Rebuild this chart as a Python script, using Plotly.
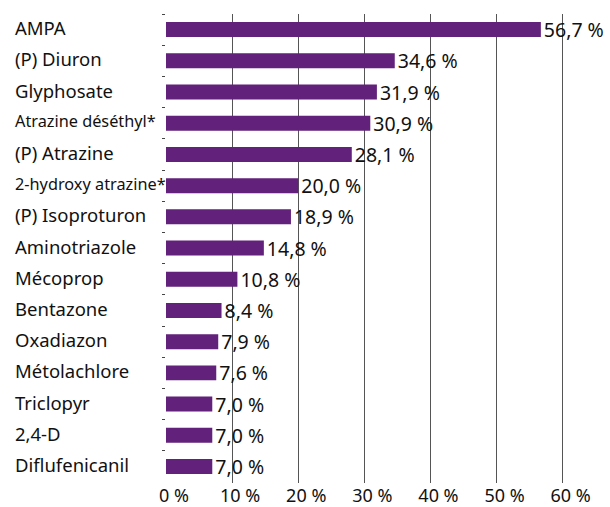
import plotly.graph_objects as go

# Substances, top to bottom, with their detection frequency (%)
substances = [
    "AMPA", "(P) Diuron", "Glyphosate", "Atrazine déséthyl*", "(P) Atrazine",
    "2-hydroxy atrazine*", "(P) Isoproturon", "Aminotriazole", "Mécoprop",
    "Bentazone", "Oxadiazon", "Métolachlore", "Triclopyr", "2,4-D", "Diflufenicanil",
]
frequencies = [56.7, 34.6, 31.9, 30.9, 28.1, 20.0, 18.9, 14.8, 10.8, 8.4, 7.9, 7.6, 7.0, 7.0, 7.0]
x_ticks = [0, 10, 20, 30, 40, 50, 60]
x_tick_labels = ["0 %", "10 %", "20 %", "30 %", "40 %", "50 %", "60 %"]
narrow_labels = {"Atrazine déséthyl*", "2-hydroxy atrazine*"}

FONT = "Noto Sans"
W, H = 610, 507
ML, MR, MT, MB = 166, 46, 14, 24
plot_w = W - ML - MR

fig = go.Figure(go.Bar(
    x=frequencies,
    y=substances,
    orientation="h",
    marker=dict(color="#62217a", line=dict(width=0)),
    width=0.48,
    text=[f"{v:.1f} %".replace(".", ",") for v in frequencies],
    textposition="outside",
    textfont=dict(family=FONT, size=19.5, color="#111111"),
    constraintext="none",
    cliponaxis=False,
    hoverinfo="skip",
))

# Category names, left-aligned in the left margin
for name in substances:
    fig.add_annotation(
        x=-(ML - 13) / plot_w, xref="paper", xanchor="left",
        y=name, yref="y", yanchor="middle", yshift=2,
        text=name, showarrow=False,
        font=dict(family=FONT, size=16.3 if name in narrow_labels else 18.5, color="#111111"),
    )

fig.update_layout(
    width=W, height=H,
    margin=dict(l=ML, r=MR, t=MT, b=MB),
    paper_bgcolor="white", plot_bgcolor="white",
    showlegend=False,
    xaxis=dict(
        range=[0, 60.2],
        tickvals=x_ticks, ticktext=x_tick_labels,
        tickfont=dict(family=FONT, size=18, color="#111111"),
        ticklabelshift=8,
        showgrid=True, gridcolor="#555555", gridwidth=1,
        zeroline=False, showline=False, ticks="",
        automargin=False,
    ),
    yaxis=dict(
        autorange="reversed",
        showticklabels=False,
        ticks="outside", tickson="boundaries", ticklen=3, tickcolor="#444444",
        showgrid=False, zeroline=False, showline=False,
        automargin=False,
    ),
)

fig.write_html("out.html")
